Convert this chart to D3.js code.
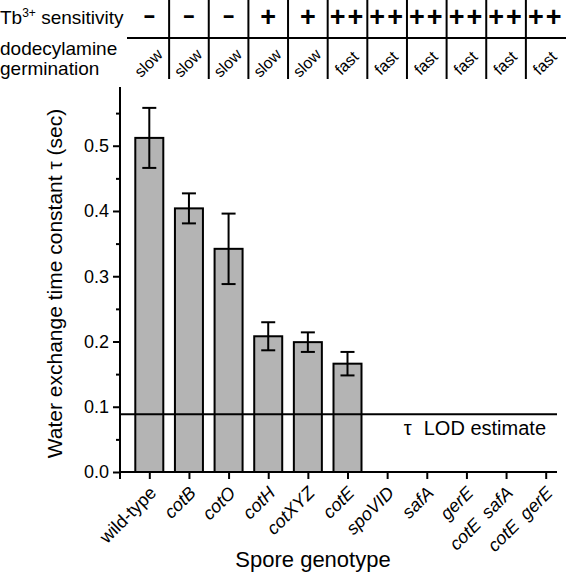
<!DOCTYPE html>
<html>
<head>
<meta charset="utf-8">
<script src="https://cdn.jsdelivr.net/npm/d3@7"></script>
<style>
  html, body { margin: 0; padding: 0; background: #fff; }
  svg { display: block; font-family: "Liberation Sans", Arial, sans-serif; }
</style>
</head>
<body>
<svg id="chart" width="566" height="577"></svg>
<script>
// ---- data ----
const categories = ["wild-type", "cotB", "cotO", "cotH", "cotXYZ", "cotE", "spoVID", "safA", "gerE", "cotE safA", "cotE gerE"];
const tauValues = [0.512, 0.404, 0.342, 0.208, 0.199, 0.166, null, null, null, null, null];
const tauErrors = [0.046, 0.023, 0.054, 0.0215, 0.015, 0.018, null, null, null, null, null];
const tbSensitivity = ["-", "-", "-", "+", "+", "++", "++", "++", "++", "++", "++"];
const germination = ["slow", "slow", "slow", "slow", "slow", "fast", "fast", "fast", "fast", "fast", "fast"];
const lodEstimate = 0.0885;
const yMajorTicks = [0.0, 0.1, 0.2, 0.3, 0.4, 0.5];
const yMinorTicks = [0.05, 0.15, 0.25, 0.35, 0.45, 0.55];
const italicCategories = ["cotB", "cotO", "cotH", "cotXYZ", "cotE", "spoVID", "safA", "gerE", "cotE safA", "cotE gerE"];

// ---- layout ----
const svg = d3.select("#chart");
const axisX0 = 120, axisX1 = 557;
const plotTop = 87, plotBottom = 472;

const x = d3.scalePoint().domain(categories).range([149.3, 545.7]);
const y = d3.scaleLinear().domain([0, 0.59]).range([plotBottom, plotTop]);
const step = x.step();
const barW = 28;

const data = categories.map((c, i) => ({ c, v: tauValues[i], e: tauErrors[i] }));

// ---- bars ----
svg.append("g").selectAll("rect")
  .data(data.filter(d => d.v != null))
  .join("rect")
  .attr("x", d => x(d.c) - barW / 2)
  .attr("y", d => y(d.v))
  .attr("width", barW)
  .attr("height", d => y(0) - y(d.v))
  .attr("fill", "#b4b4b4")
  .attr("stroke", "#000")
  .attr("stroke-width", 2);

// ---- error bars ----
const eb = svg.append("g").attr("stroke", "#000").attr("stroke-width", 2);
data.filter(d => d.v != null).forEach(d => {
  const cx = x(d.c);
  eb.append("line").attr("x1", cx).attr("x2", cx).attr("y1", y(d.v + d.e)).attr("y2", y(d.v - d.e));
  eb.append("line").attr("x1", cx - 7).attr("x2", cx + 7).attr("y1", y(d.v + d.e)).attr("y2", y(d.v + d.e));
  eb.append("line").attr("x1", cx - 7).attr("x2", cx + 7).attr("y1", y(d.v - d.e)).attr("y2", y(d.v - d.e));
});

// ---- LOD line ----
svg.append("line")
  .attr("x1", axisX0).attr("x2", axisX1)
  .attr("y1", y(lodEstimate)).attr("y2", y(lodEstimate))
  .attr("stroke", "#000").attr("stroke-width", 2);
const lodText = svg.append("text")
  .attr("x", 546).attr("y", y(lodEstimate) + 21)
  .attr("text-anchor", "end")
  .attr("font-size", 20);
lodText.append("tspan").text("τ");
lodText.append("tspan").attr("dx", 12).text("LOD estimate");

// ---- y axis ----
const yAxis = svg.append("g").attr("transform", `translate(${axisX0},0)`)
  .call(d3.axisLeft(y).tickValues(yMajorTicks).tickSize(7).tickPadding(4).tickFormat(d3.format(".1f")));
yAxis.select(".domain").remove();
yAxis.selectAll("line").attr("stroke-width", 2);
yAxis.selectAll("text").attr("font-size", 18).attr("font-family", "Liberation Sans, Arial, sans-serif").attr("fill", "#000");
const yMinor = svg.append("g").attr("transform", `translate(${axisX0},0)`)
  .call(d3.axisLeft(y).tickValues(yMinorTicks).tickSize(4).tickFormat(""));
yMinor.select(".domain").remove();
yMinor.selectAll("line").attr("stroke-width", 2);
svg.append("line").attr("x1", axisX0).attr("x2", axisX0).attr("y1", plotTop).attr("y2", plotBottom + 7)
  .attr("stroke", "#000").attr("stroke-width", 2);

// ---- x axis ----
const xAxis = svg.append("g").attr("transform", `translate(0,${plotBottom})`)
  .call(d3.axisBottom(x).tickSize(7).tickFormat(""));
xAxis.select(".domain").remove();
xAxis.selectAll("line").attr("stroke-width", 2);
svg.append("line").attr("x1", axisX0 - 1).attr("x2", axisX1).attr("y1", plotBottom).attr("y2", plotBottom)
  .attr("stroke", "#000").attr("stroke-width", 2);

// x tick labels
const xl = svg.append("g").attr("font-size", 18);
categories.forEach(c => {
  const t = xl.append("text")
    .attr("text-anchor", "end")
    .attr("transform", `translate(${x(c) + 8},${plotBottom + 22}) rotate(-45)`);
  const words = c.split(" ");
  const ital = italicCategories.includes(c);
  words.forEach((w, i) => {
    const ts = t.append("tspan").text(w).attr("font-style", ital ? "italic" : "normal");
    if (i > 0) ts.attr("dx", 9);
  });
});

svg.append("text").attr("x", 313).attr("y", 567).attr("text-anchor", "middle")
  .attr("font-size", 22).text("Spore genotype");

svg.append("text")
  .attr("transform", `translate(62,${(plotTop + plotBottom) / 2 + 4}) rotate(-90)`)
  .attr("text-anchor", "middle").attr("font-size", 21)
  .text("Water exchange time constant τ (sec)");

// ---- header table ----
const hdr = svg.append("g");
const row1 = hdr.append("text").attr("x", 0).attr("y", 24).attr("font-size", 19);
row1.append("tspan").text("Tb");
row1.append("tspan").attr("font-size", 12).attr("dy", -7).text("3+");
row1.append("tspan").attr("dy", 7).text(" sensitivity");
hdr.append("text").attr("x", 0).attr("y", 55).attr("font-size", 19).text("dodecylamine");
hdr.append("text").attr("x", 0).attr("y", 75).attr("font-size", 19).text("germination");

categories.forEach((c, i) => {
  const cx = x(c);
  const s = tbSensitivity[i];
  if (s === "-") {
    hdr.append("text").attr("text-anchor", "middle")
      .attr("transform", `translate(${cx},23) scale(1.6,1)`)
      .attr("font-size", 24).attr("font-weight", "bold").text("-");
  } else {
    hdr.append("text").attr("x", cx).attr("y", 25.5).attr("text-anchor", "middle")
      .attr("font-size", 27).attr("font-weight", "bold").attr("letter-spacing", s.length > 1 ? 2 : 0).text(s);
  }
  hdr.append("text").attr("text-anchor", "middle").attr("font-size", 16)
    .attr("transform", `translate(${cx + 3},67) rotate(-45)`).text(germination[i]);
});
// grid lines
hdr.append("line").attr("x1", 127).attr("x2", 566).attr("y1", 38).attr("y2", 38)
  .attr("stroke", "#000").attr("stroke-width", 2);
categories.slice(0, -1).forEach(c => {
  const lx = x(c) + step / 2;
  hdr.append("line").attr("x1", lx).attr("x2", lx).attr("y1", 0).attr("y2", 79)
    .attr("stroke", "#000").attr("stroke-width", 2);
});
</script>
</body>
</html>
